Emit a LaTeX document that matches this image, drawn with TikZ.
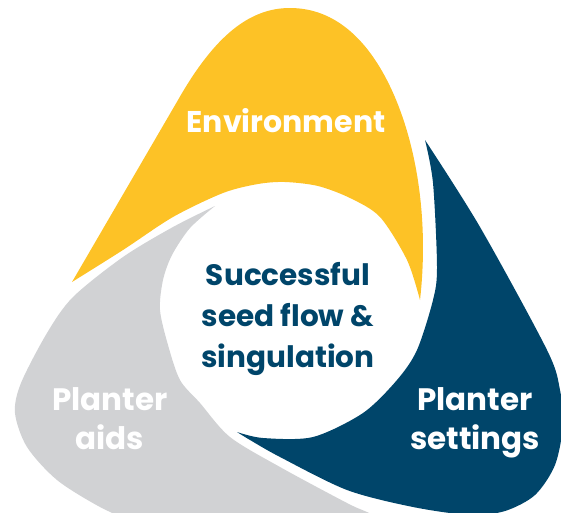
\documentclass[tikz,border=0pt]{standalone}
\usepackage{fontspec}
\setmainfont{Poppins}
\definecolor{yel}{RGB}{253,194,38}
\definecolor{navy}{RGB}{0,69,106}
\definecolor{lgray}{RGB}{209,210,212}
\begin{document}
\begin{tikzpicture}[x=1pt,y=-1pt,
  lbl/.style={text=white,font=\fontsize{31}{36}\selectfont\bfseries,align=center,inner sep=0pt},
  ctr/.style={text=navy,font=\fontsize{29.5}{41}\selectfont\bfseries,align=center,inner sep=0pt}]
\useasboundingbox (0,0) rectangle (561,512);
\clip (0,0) rectangle (561,512);
% yellow
\fill[yel] (72,282) -- (178,100) .. controls (215,35) and (250,8) .. (290,8)
  .. controls (335,8) and (370,40) .. (394,95)
  .. controls (420,155) and (428,230) .. (420,300)
  -- plot[smooth] coordinates {(420,300) (407,260) (380,217) (350,198) (318,186) (285,182) (258,184) (223,193) (173,217) (123,250) (72,282)} -- cycle;
% blue
\fill[navy] plot[smooth] coordinates {(425,140) (480,227) (547,350) (560,390) (563,425) (555,465) (535,495) (505,511) (470,515) (413,507) (347,490) (280,457) (250,440) (237,432)}
  -- plot[smooth] coordinates {(237,432) (263,438) (313,437) (363,413) (397,380) (417,350) (433,300) (437,267) (433,183) (425,140)} -- cycle;
% gray
\fill[lgray] plot[smooth] coordinates {(215,206) (173,227) (123,257) (73,297) (47,333) (21,383) (15,413) (27,447) (57,480) (100,507) (140,525)}
  -- (395,525)
  -- plot[smooth] coordinates {(395,525) (367,512) (347,503) (280,467) (230,437) (200,403) (180,380) (168,345) (160,310) (163,280) (172,255) (190,228) (215,206)} -- cycle;
% labels
\node[lbl,anchor=base,font=\fontsize{30}{36}\selectfont\bfseries] (env) at (286,132) {Environment};
\node[lbl,anchor=base] (ps1) at (475,410) {Planter};
\node[lbl,anchor=base] (ps2) at (475,449) {settings};
\node[lbl,anchor=base] (pa1) at (110,410) {Planter};
\node[lbl,anchor=base] (pa2) at (110,449) {aids};
\node[ctr,anchor=base] (c1) at (288,285) {Successful};
\node[ctr,anchor=base] (c2) at (288,326) {seed flow \&};
\node[ctr,anchor=base] (c3) at (288,367) {singulation};
\end{tikzpicture}
\end{document}
